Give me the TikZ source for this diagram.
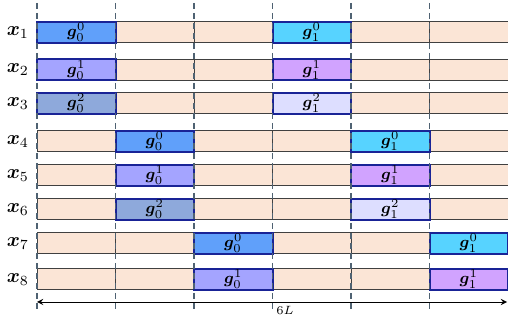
\documentclass[tikz,border=0pt]{standalone}
\usepackage{bm}
\definecolor{peach}{HTML}{FBE5D6}
\definecolor{cellgray}{HTML}{404040}
\definecolor{navy}{RGB}{25,35,150}
\definecolor{slate}{HTML}{4F6272}
\definecolor{gzz}{HTML}{60A0FA}
\definecolor{gzo}{HTML}{A4A4FF}
\definecolor{gzt}{HTML}{8EA9DB}
\definecolor{goz}{HTML}{57D3FF}
\definecolor{goo}{HTML}{D1A3FF}
\definecolor{got}{HTML}{DDDEFF}
\begin{document}
\begin{tikzpicture}[x=0.5pt,y=-0.5pt]
    \tikzstyle{cell}=[draw=cellgray,fill=peach,line width=0.5pt,minimum width=39.25pt,minimum height=10.5pt,inner sep=0pt]
    \tikzstyle{grad}=[cell,draw=navy,line width=1pt,font=\footnotesize]
    \tikzstyle{sep}=[dashed,slate,line width=0.75pt,dash pattern=on 3pt off 2pt]
    \useasboundingbox (0,0) rectangle (508,325);

    % rows: empty cells, block slots kept as coordinates
    \foreach \r/\y in {1/32.5,2/70,3/103.5,4/141.5,5/175.5,6/209.5,7/243.5,8/279.5} {
        \node[anchor=east,font=\normalsize] at (36,\y) (x\r) {$\bm{x}_{\r}$};
        \pgfmathtruncatemacro\b{(\r+2)/3}
        \pgfmathtruncatemacro\bb{\b+3}
        \foreach \c in {1,...,6} {
            \coordinate (p\r\c) at ({37+78.5*(\c-0.5)},\y);
            \ifnum\c=\b\else\ifnum\c=\bb\else
                \node[cell] at (p\r\c) (c\r\c) {};
            \fi\fi
        }
    }

    % gradient blocks
    \node[grad,fill=gzz] at (p11) (c11) {$\bm{g}_0^0$};
    \node[grad,fill=gzo] at (p21) (c21) {$\bm{g}_0^1$};
    \node[grad,fill=gzt] at (p31) (c31) {$\bm{g}_0^2$};
    \node[grad,fill=goz] at (p14) (c14) {$\bm{g}_1^0$};
    \node[grad,fill=goo] at (p24) (c24) {$\bm{g}_1^1$};
    \node[grad,fill=got] at (p34) (c34) {$\bm{g}_1^2$};
    \node[grad,fill=gzz] at (p42) (c42) {$\bm{g}_0^0$};
    \node[grad,fill=gzo] at (p52) (c52) {$\bm{g}_0^1$};
    \node[grad,fill=gzt] at (p62) (c62) {$\bm{g}_0^2$};
    \node[grad,fill=goz] at (p45) (c45) {$\bm{g}_1^0$};
    \node[grad,fill=goo] at (p55) (c55) {$\bm{g}_1^1$};
    \node[grad,fill=got] at (p65) (c65) {$\bm{g}_1^2$};
    \node[grad,fill=gzz] at (p73) (c73) {$\bm{g}_0^0$};
    \node[grad,fill=gzo] at (p83) (c83) {$\bm{g}_0^1$};
    \node[grad,fill=goz] at (p76) (c76) {$\bm{g}_1^0$};
    \node[grad,fill=goo] at (p86) (c86) {$\bm{g}_1^1$};

    % slot boundaries
    \foreach \i in {0,...,5} {
        \coordinate (t\i) at ({37+78.5*\i},3);
        \coordinate (b\i) at ({37+78.5*\i},312);
        \draw[sep] (t\i) -- (b\i);
    }

    \coordinate (left) at (37,302);
    \coordinate (right) at (507,302);
    \draw[<->,>=stealth] (left) -- (right) node [midway, below right, inner sep=2pt, font=\fontsize{6.5}{7}\selectfont] {$6L$};
\end{tikzpicture}
\end{document}
